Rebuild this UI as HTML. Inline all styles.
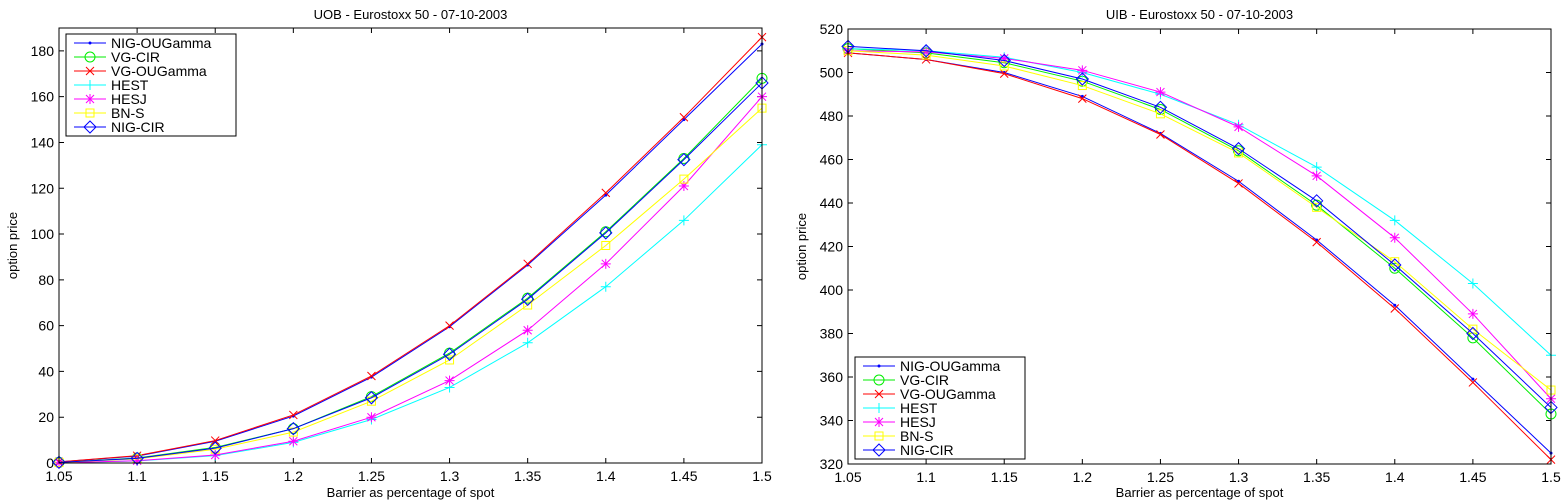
<!DOCTYPE html>
<html><head><meta charset="utf-8"><style>
html,body{margin:0;padding:0;background:#fff;}
svg{display:block;font-family:"Liberation Sans",sans-serif;}
</style></head><body>
<svg id="s" width="1566" height="504" viewBox="0 0 1566 504" xmlns="http://www.w3.org/2000/svg"></svg>
<script>
const S=document.getElementById('s');let h='';
const col={NIG_OU:'#0000ff',VG_CIR:'#00ee00',VG_OU:'#ff0000',HEST:'#00ffff',HESJ:'#ff00ff',BNS:'#ffff00',NIG_CIR:'#0000ff'};
const order=[['NIG-OUGamma','NIG_OU','dot'],['VG-CIR','VG_CIR','o'],['VG-OUGamma','VG_OU','x'],['HEST','HEST','+'],['HESJ','HESJ','*'],['BN-S','BNS','sq'],['NIG-CIR','NIG_CIR','d']];
function mk(t,x,y,c){
 if(t=='dot')return `<circle cx="${x}" cy="${y}" r="1.5" fill="${c}"/>`;
 if(t=='o')return `<circle cx="${x}" cy="${y}" r="5" fill="none" stroke="${c}"/>`;
 if(t=='x')return `<path d="M${x-4} ${y-4}L${x+4} ${y+4}M${x-4} ${y+4}L${x+4} ${y-4}" stroke="${c}"/>`;
 if(t=='+')return `<path d="M${x-5} ${y}H${x+5}M${x} ${y-5}V${y+5}" stroke="${c}"/>`;
 if(t=='*')return `<path d="M${x-5} ${y}H${x+5}M${x} ${y-5}V${y+5}M${x-4} ${y-4}L${x+4} ${y+4}M${x-4} ${y+4}L${x+4} ${y-4}" stroke="${c}"/>`;
 if(t=='sq')return `<rect x="${x-4}" y="${y-4}" width="8" height="8" fill="none" stroke="${c}"/>`;
 if(t=='d')return `<path d="M${x} ${y-6}L${x+6} ${y}L${x} ${y+6}L${x-6} ${y}Z" fill="none" stroke="${c}"/>`;
}
function plot(P){
 const {x0,x1,y0,y1,ymin,ymax,ystep,title,data,leg}=P;
 const X=i=>x0+(x1-x0)*i/9, Y=v=>y1-(y1-y0)*(v-ymin)/(ymax-ymin);
 h+=`<text x="${(x0+x1)/2}" y="19" font-size="13" text-anchor="middle">${title}</text>`;
 h+=`<text x="${(x0+x1)/2}" y="497" font-size="13" text-anchor="middle">Barrier as percentage of spot</text>`;
 h+=`<text transform="translate(${x0-42},${(y0+y1)/2}) rotate(-90)" font-size="13" text-anchor="middle">option price</text>`;
 const xl=['1.05','1.1','1.15','1.2','1.25','1.3','1.35','1.4','1.45','1.5'];
 for(let i=0;i<10;i++){const x=X(i);
  h+=`<path d="M${x} ${y1}v-5M${x} ${y0}v5" stroke="#000"/>`;
  h+=`<text x="${x}" y="${y1+18}" font-size="14" text-anchor="middle">${xl[i]}</text>`;}
 for(let v=ymin;v<=ymax+0.01;v+=ystep){const y=Y(v);
  h+=`<path d="M${x0} ${y}h5M${x1} ${y}h-5" stroke="#000"/>`;
  h+=`<text x="${x0-5}" y="${y+5}" font-size="14" text-anchor="end">${v}</text>`;}
 order.forEach(([n,k,m])=>{const d=data[k],c=col[k];
  h+=`<polyline points="${d.map((v,i)=>X(i)+','+Y(v)).join(' ')}" fill="none" stroke="${c}" stroke-width="1"/>`;
  d.forEach((v,i)=>h+=mk(m,X(i),Y(v),c));});
 h+=`<rect x="${x0}" y="${y0}" width="${x1-x0}" height="${y1-y0}" fill="none" stroke="#000"/>`;
 const [lx,ly]=leg;
 h+=`<rect x="${lx}" y="${ly}" width="170" height="102" fill="#fff" stroke="#000"/>`;
 order.forEach(([n,k,m],j)=>{const y=ly+9+j*14;
  h+=`<path d="M${lx+8} ${y}h32" stroke="${col[k]}"/>`+mk(m,lx+24,y,col[k]);
  h+=`<text x="${lx+45}" y="${y+5}" font-size="14">${n}</text>`;});
}
plot({x0:59,x1:762,y0:28,y1:463,ymin:0,ymax:190,ystep:20,title:'UOB - Eurostoxx 50 - 07-10-2003',leg:[66,34],data:{
NIG_OU:[0.5,3,9.5,20.5,37.5,59.5,86.5,117,150,183],
VG_OU:[0.5,3.2,9.8,21,38,60,87,118,151,186],
VG_CIR:[0.3,2.2,6.8,15,29,48,72,101,133,168],
NIG_CIR:[0.3,2,6.5,15,28.5,47.5,71.5,100.5,132.5,166],
BNS:[0.2,1.8,6,13.5,27,45,69,95,124,155],
HESJ:[0.1,1,3.5,9.5,20,36,58,87,121,160],
HEST:[0.1,0.9,3.2,9,19,33,52.5,77,106,139]}});
plot({x0:848,x1:1551,y0:29,y1:464,ymin:320,ymax:520,ystep:20,title:'UIB - Eurostoxx 50 - 07-10-2003',leg:[855,357],data:{
NIG_OU:[509,506,500,489,472,450,423,393,359,325],
VG_OU:[509,506,499.5,488,471.5,449,422,391.5,357.5,322],
VG_CIR:[511,509,504.5,496,483,464,439,410,378,343],
NIG_CIR:[512,510,505.5,497,484,465,441,411.5,380,346],
BNS:[510,508,503,494,481,463,438,413,382,354],
HESJ:[510,509.5,506.5,501,491,475,452.5,424,389,350],
HEST:[511,510,507,500,490,476,456.5,432,403,370]}});
S.innerHTML=h;
</script>
</body></html>
